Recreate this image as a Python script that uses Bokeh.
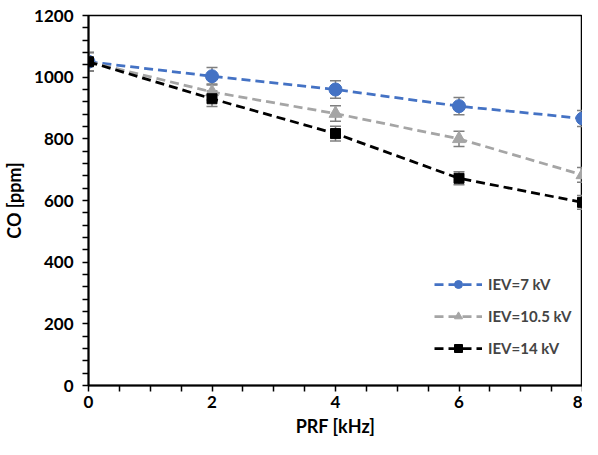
from bokeh.plotting import figure
from bokeh.models import ColumnDataSource, Whisker, FixedTicker, Legend, LegendItem, CustomJSTickFormatter
from bokeh.embed import file_html
from bokeh.resources import INLINE

prf = [0, 2, 4, 6, 8]
co_7kv = [1050, 1003, 960, 906, 866]
err_7kv = [30, 28, 28, 28, 26]
co_10kv = [1050, 952, 882, 800, 683]
err_10kv = [30, 26, 25, 25, 24]
co_14kv = [1050, 930, 817, 672, 594]
err_14kv = [30, 25, 24, 21, 22]
labels = ["IEV=7 kV", "IEV=10.5 kV", "IEV=14 kV"]

FONT = "Lato"

p = figure(width=582, height=439, output_backend="svg", toolbar_location=None,
           x_range=(0, 8), y_range=(0, 1200),
           min_border_left=81, min_border_right=0, min_border_top=15, min_border_bottom=51)
p.xgrid.visible = False
p.ygrid.visible = False
p.outline_line_color = "black"
p.outline_line_width = 1.5
p.background_fill_color = "white"

for ax in (p.xaxis, p.yaxis):
    ax.axis_line_color = "black"
    ax.axis_line_width = 2
    ax.major_tick_line_color = "black"
    ax.major_tick_line_width = 1.5
    ax.minor_tick_line_color = None
    ax.major_tick_in = 0
    ax.major_tick_out = 6
    ax.major_label_text_font = FONT
    ax.major_label_text_font_style = "bold"
    ax.major_label_text_font_size = "17px"
    ax.major_label_text_color = "black"
    ax.axis_label_text_font = FONT
    ax.axis_label_text_font_style = "bold"
    ax.axis_label_text_font_size = "18px"
    ax.axis_label_text_color = "black"

p.xaxis.ticker = FixedTicker(ticks=[i * 0.5 for i in range(17)])
p.xaxis.formatter = CustomJSTickFormatter(code="return (tick % 2 === 0) ? tick.toFixed(0) : '';")
p.yaxis.ticker = FixedTicker(ticks=[i * 40 for i in range(31)])
p.yaxis.formatter = CustomJSTickFormatter(code="return (tick % 200 === 0) ? tick.toFixed(0) : '';")
p.xaxis.axis_label = "PRF [kHz]"
p.yaxis.axis_label = "CO [ppm]"
p.xaxis.major_label_standoff = 4
p.xaxis.axis_label_standoff = 4
p.yaxis.major_label_standoff = 9
p.yaxis.axis_label_standoff = 6

series = [
    (co_7kv, err_7kv, "#4472C4", "circle", 13),
    (co_10kv, err_10kv, "#A5A5A5", "triangle", 13),
    (co_14kv, err_14kv, "black", "square", 10),
]
items = []
for (vals, errs, color, marker, size), lab in zip(series, labels):
    src = ColumnDataSource(dict(x=prf, y=vals,
                                lo=[v - e for v, e in zip(vals, errs)],
                                hi=[v + e for v, e in zip(vals, errs)]))
    ln = p.line("x", "y", source=src, line_color=color, line_width=2.75, line_dash="9 5")
    w = Whisker(base="x", lower="lo", upper="hi", source=src, line_color="#7F7F7F", line_width=1.5)
    w.upper_head.line_color = "#7F7F7F"
    w.lower_head.line_color = "#7F7F7F"
    w.upper_head.size = 11
    w.lower_head.size = 11
    w.upper_head.line_width = 1.5
    w.lower_head.line_width = 1.5
    p.add_layout(w)
    sc = p.scatter("x", "y", source=src, marker=marker, size=size, fill_color=color, line_color=color)
    items.append(LegendItem(label=lab, renderers=[ln, sc]))

legend = Legend(items=items, location=(346, 27), border_line_color=None, background_fill_alpha=0,
                label_text_font=FONT, label_text_font_style="bold", label_text_font_size="15px",
                glyph_width=48, spacing=12, label_standoff=6)
p.add_layout(legend, "center")

open("out.html", "w").write(file_html(p, INLINE))
